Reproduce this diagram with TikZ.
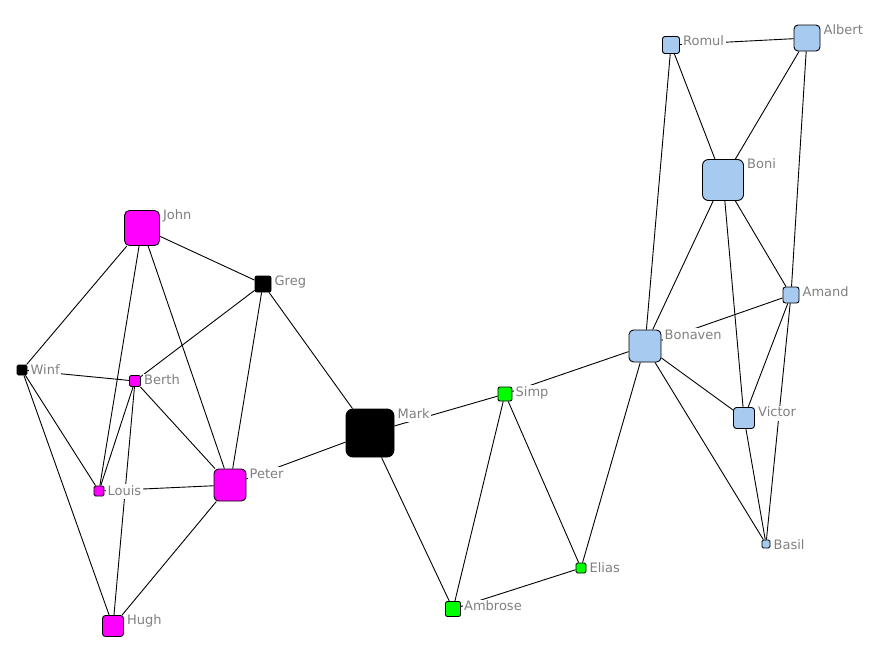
\documentclass[tikz,border=0pt]{standalone}
\usepackage{fontspec}
\setmainfont{DejaVu Sans}
\definecolor{mag}{RGB}{255,0,255}
\definecolor{grn}{RGB}{0,255,0}
\definecolor{lblue}{RGB}{166,202,240}
\definecolor{labgray}{RGB}{128,128,128}
\tikzset{
  sq/.style={draw=black, line width=0.9pt, inner sep=0pt, minimum size=#1pt},
  lab/.style={anchor=west, text=labgray, fill=white, inner sep=1.5pt, font=\fontsize{13}{13}\selectfont, text height=9.5pt, text depth=2.5pt},
  edge/.style={draw=black, line width=0.9pt}
}
\newcommand{\sqnode}[6]{% name, x, y, size, colour, radius
  \node[sq=#4, fill=#5, rounded corners=#6pt] (#1) at (#2,#3) {};}
\newcommand{\sqlabel}[2]{%
  \node[lab] (#1lab) at ([xshift=1.5pt,yshift=-6pt]#1.north east) {#2};}
\begin{document}
\begin{tikzpicture}[x=1pt,y=-1pt]
\fill[white] (0,0) rectangle (872,651);
\useasboundingbox (0,0) rectangle (872,651);
% nodes
\sqnode{john}{142}{228}{35}{mag}{5}
\sqnode{greg}{263}{284}{16}{black}{2}
\sqnode{winf}{22}{370}{10}{black}{1.5}
\sqnode{berth}{135}{381}{11}{mag}{1.5}
\sqnode{louis}{99}{491}{10}{mag}{1.5}
\sqnode{peter}{230}{485}{32}{mag}{4.5}
\sqnode{hugh}{113}{626}{21}{mag}{3}
\sqnode{mark}{370}{433}{48}{black}{7}
\sqnode{simp}{505}{394}{14}{grn}{2}
\sqnode{ambrose}{453}{609}{15}{grn}{2}
\sqnode{elias}{581}{568}{10}{grn}{1.5}
\sqnode{romul}{671}{45}{17}{lblue}{2.5}
\sqnode{albert}{807}{38}{26}{lblue}{4}
\sqnode{boni}{723}{180}{41}{lblue}{6}
\sqnode{amand}{791}{295}{16}{lblue}{2.5}
\sqnode{bonaven}{645}{346}{32}{lblue}{4.5}
\sqnode{victor}{744}{418}{21}{lblue}{3}
\sqnode{basil}{766}{544}{8}{lblue}{1.5}
% edges
\foreach \a/\b in {john/greg, john/winf, john/louis, john/peter,
  greg/berth, greg/peter, greg/mark,
  winf/berth, winf/louis, winf/hugh,
  berth/louis, berth/peter, berth/hugh,
  louis/peter, peter/hugh, peter/mark,
  mark/simp, mark/ambrose,
  simp/ambrose, simp/elias, simp/bonaven,
  ambrose/elias, elias/bonaven,
  romul/albert, romul/boni, romul/bonaven,
  albert/boni, albert/amand,
  boni/bonaven, boni/victor, boni/amand,
  bonaven/amand, bonaven/victor, bonaven/basil,
  amand/victor, amand/basil, victor/basil}
  \draw[edge] (\a) -- (\b);
% labels
\sqlabel{john}{John}
\sqlabel{greg}{Greg}
\sqlabel{winf}{Winf}
\sqlabel{berth}{Berth}
\sqlabel{louis}{Louis}
\sqlabel{peter}{Peter}
\sqlabel{hugh}{Hugh}
\sqlabel{mark}{Mark}
\sqlabel{simp}{Simp}
\sqlabel{ambrose}{Ambrose}
\sqlabel{elias}{Elias}
\sqlabel{romul}{Romul}
\sqlabel{albert}{Albert}
\sqlabel{boni}{Boni}
\sqlabel{amand}{Amand}
\sqlabel{bonaven}{Bonaven}
\sqlabel{victor}{Victor}
\sqlabel{basil}{Basil}
\end{tikzpicture}
\end{document}
